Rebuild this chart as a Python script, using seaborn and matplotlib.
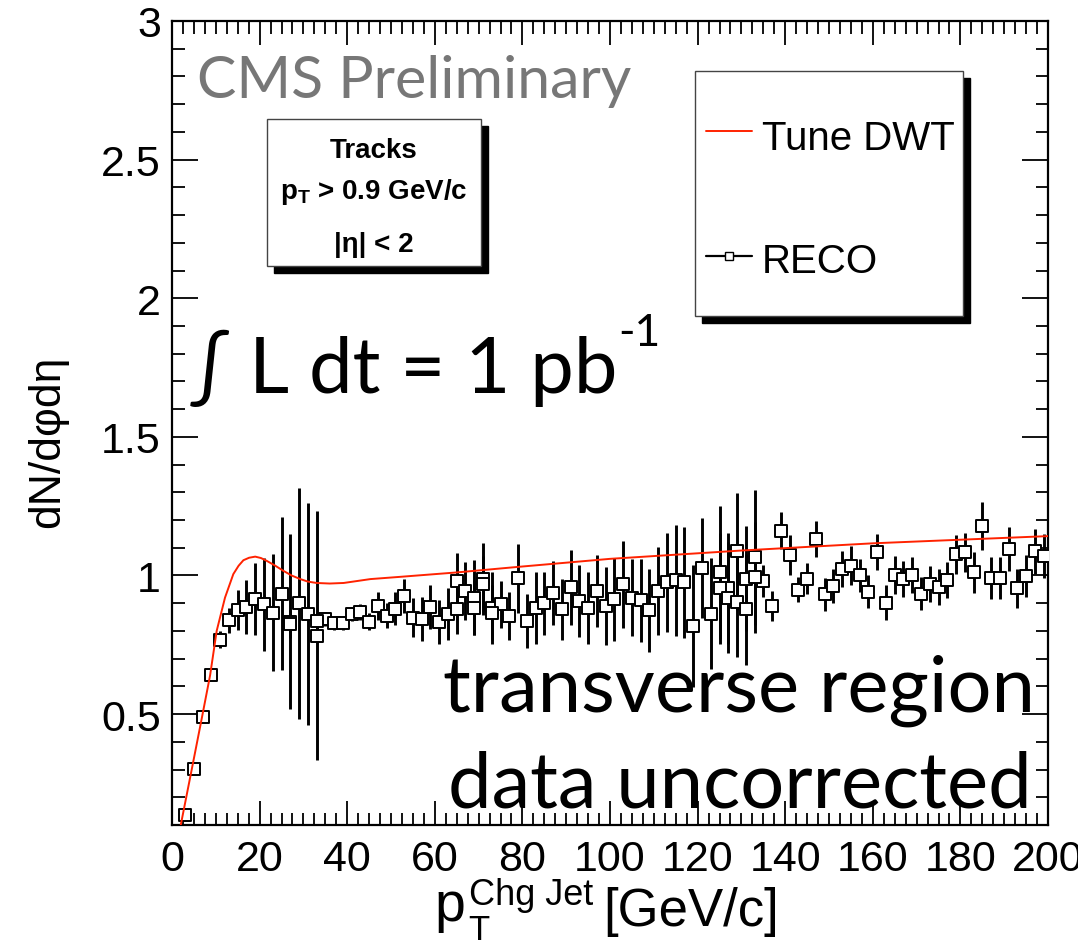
import numpy as np
import pandas as pd
import matplotlib
matplotlib.use('Agg')
import matplotlib.pyplot as plt
import seaborn as sns
from matplotlib.patches import Rectangle
from matplotlib.lines import Line2D
from matplotlib.ticker import MultipleLocator

# ---------------- data ----------------
reco_pt = [3, 5, 7, 9, 11, 13, 15, 17, 19, 21, 23, 25, 27, 29, 31, 33, 35, 37, 39, 41,
           43, 45, 47, 49, 51, 53, 55, 57, 59, 61, 63, 65, 67, 69, 71, 73, 75, 77, 79, 81,
           83, 85, 87, 89, 91, 93, 95, 97, 99, 101, 103, 105, 107, 109, 111, 113, 115, 117, 119, 121,
           123, 125, 127, 129, 131, 133, 135, 137, 139, 141, 143, 145, 147, 149, 151, 153, 155, 157, 159, 161,
           163, 165, 167, 169, 171, 173, 175, 177, 179, 181, 183, 185, 187, 189, 191, 193, 195, 197, 199]
reco_val = [0.135, 0.303, 0.488, 0.642, 0.768, 0.839, 0.876, 0.887, 0.916, 0.896,
            0.866, 0.935, 0.833, 0.900, 0.860, 0.783, 0.842, 0.830, 0.827, 0.862,
            0.868, 0.834, 0.890, 0.854, 0.880, 0.926, 0.848, 0.842, 0.886, 0.833,
            0.862, 0.981, 0.944, 0.920, 0.987, 0.884, 0.896, 0.854, 0.990, 0.836,
            0.884, 0.899, 0.938, 0.878, 0.957, 0.908, 0.884, 0.944, 0.890, 0.914,
            0.969, 0.920, 0.911, 0.874, 0.944, 0.975, 0.983, 0.975, 0.818, 1.027,
            0.862, 1.011, 0.954, 1.087, 0.989, 1.065, 0.981, 0.890, 1.162, 1.074,
            0.948, 0.989, 1.132, 0.932, 0.962, 1.025, 1.035, 1.001, 0.942, 1.083,
            0.902, 1.002, 0.989, 1.002, 0.935, 0.969, 0.957, 0.983, 1.077, 1.083,
            1.011, 1.178, 0.990, 0.990, 1.095, 0.954, 0.999, 1.087, 1.071]
reco_err = [0.010, 0.010, 0.012, 0.015, 0.030, 0.045, 0.072, 0.097, 0.130, 0.167,
            0.210, 0.275, 0.316, 0.417, 0.400, 0.450, 0.025, 0.025, 0.025, 0.025,
            0.030, 0.030, 0.050, 0.045, 0.060, 0.063, 0.070, 0.080, 0.080, 0.080,
            0.094, 0.100, 0.105, 0.135, 0.130, 0.130, 0.085, 0.085, 0.125, 0.097,
            0.130, 0.115, 0.115, 0.110, 0.135, 0.130, 0.130, 0.130, 0.140, 0.150,
            0.157, 0.140, 0.150, 0.150, 0.160, 0.180, 0.200, 0.200, 0.220, 0.180,
            0.200, 0.240, 0.200, 0.210, 0.190, 0.245, 0.057, 0.054, 0.066, 0.072,
            0.045, 0.055, 0.066, 0.060, 0.060, 0.065, 0.070, 0.060, 0.060, 0.065,
            0.063, 0.070, 0.065, 0.065, 0.060, 0.065, 0.065, 0.065, 0.070, 0.070,
            0.075, 0.087, 0.075, 0.075, 0.080, 0.070, 0.075, 0.080, 0.080]

# overlapping second entries seen at some bins
extra_pt = [27, 33, 65, 69, 71, 73, 125, 127, 129, 131, 133]
extra_val = [0.824, 0.836, 0.878, 0.884, 0.969, 0.866, 0.954, 0.920, 0.906, 0.878, 0.993]
extra_err = [0.050, 0.030, 0.090, 0.100, 0.100, 0.100, 0.200, 0.200, 0.200, 0.200, 0.200]

tune_pt = [2.0, 4.5, 6.8, 8.7, 10.2, 12.1, 14.0, 15.2, 16.3, 17.6, 19.0, 20.3, 21.6, 23.5, 25.4,
           27.3, 29.3, 31.0, 33.0, 36.0, 39.2, 45.3, 52.0, 65.0, 79.0, 100.0, 130.0, 160.0, 200.0]
tune_val = [0.10, 0.30, 0.485, 0.64, 0.80, 0.92, 1.005, 1.035, 1.055, 1.064, 1.068, 1.063, 1.053, 1.036, 1.017,
            1.000, 0.987, 0.978, 0.973, 0.971, 0.973, 0.987, 0.995, 1.011, 1.031, 1.060, 1.090, 1.116, 1.142]

x_ticks = [0, 20, 40, 60, 80, 100, 120, 140, 160, 180, 200]
y_ticks = [0.5, 1, 1.5, 2, 2.5, 3]
y_tick_labels = ['0.5', '1', '1.5', '2', '2.5', '3']

# ---------------- style ----------------
sns.set_theme(style='ticks')
plt.rcParams['font.family'] = ['Liberation Sans', 'DejaVu Sans']
plt.rcParams['mathtext.fontset'] = 'custom'
plt.rcParams['mathtext.rm'] = 'Liberation Sans'
plt.rcParams['mathtext.it'] = 'Liberation Sans'
plt.rcParams['mathtext.bf'] = 'Liberation Sans:bold'
for k in ['text.color', 'axes.labelcolor', 'xtick.color', 'ytick.color', 'axes.edgecolor']:
    plt.rcParams[k] = 'black'

W, H = 1078, 953
fig = plt.figure(figsize=(W / 100, H / 100), dpi=100)
fig.patch.set_facecolor('white')

def P(px, py):
    return (px / W, 1 - py / H)

ax_left, ax_right, ax_top, ax_bot = 172, 1048, 22, 826
ax = fig.add_axes([ax_left / W, 1 - ax_bot / H, (ax_right - ax_left) / W, (ax_bot - ax_top) / H])
ax.set_facecolor('white')

df = pd.DataFrame({'pt': reco_pt + extra_pt,
                   'val': reco_val + extra_val,
                   'err': reco_err + extra_err})

ax.errorbar(df['pt'], df['val'], yerr=df['err'], fmt='none', ecolor='black',
            elinewidth=2.1, capsize=0, zorder=2)
sns.scatterplot(data=df, x='pt', y='val', marker='s', s=72, facecolor='white',
                edgecolor='black', linewidth=1.4, zorder=3, ax=ax, legend=False)
tune_df = pd.DataFrame({'pt': tune_pt, 'val': tune_val})
sns.lineplot(data=tune_df, x='pt', y='val', sort=False, estimator=None,
             color='#ff2200', linewidth=1.4, zorder=4, ax=ax)

ax.set_xlim(0, 200)
ax.set_ylim(0.1, 3)
ax.set_xticks(x_ticks)
ax.set_yticks(y_ticks)
ax.set_yticklabels(y_tick_labels)
ax.xaxis.set_minor_locator(MultipleLocator(2.5))
ax.yaxis.set_minor_locator(MultipleLocator(0.1))
ax.tick_params(which='both', direction='in', top=True, right=True, color='black',
               labelcolor='black', width=1.3)
ax.tick_params(axis='x', which='major', length=17, labelsize=31, pad=10)
ax.tick_params(axis='y', which='major', length=19, labelsize=31, pad=8)
ax.tick_params(which='minor', length=9)
ax.set_xlabel('')
ax.set_ylabel('')
for sp in ax.spines.values():
    sp.set_linewidth(1.6)
    sp.set_color('black')

# axis titles (built from pieces to control sub/superscript placement)
fig.text(*P(434, 921), 'p', ha='left', va='baseline', fontsize=40)
fig.text(*P(468, 940), 'T', ha='left', va='baseline', fontsize=25)
fig.text(*P(469, 905), 'Chg Jet', ha='left', va='baseline', fontsize=26)
fig.text(*P(603, 926), '[GeV/c]', ha='left', va='baseline', fontsize=38)
fig.text(*P(48, 442), 'dN/dφdη', rotation=90, ha='center', va='center', fontsize=32)

# CMS Preliminary
fig.text(*P(197, 98), 'CMS Preliminary', ha='left', va='baseline', fontsize=42.5,
         color='#777777', family=['Lato', 'DejaVu Sans'])

# integrated luminosity
lum = fig.text(*P(190, 393), '∫ L dt = 1 pb', ha='left', va='baseline', fontsize=56,
               family=['Lato', 'DejaVu Sans'])
fig.canvas.draw()
bb = lum.get_window_extent(renderer=fig.canvas.get_renderer())
fig.text(bb.x1 / W + 1 / W, P(0, 346)[1], '-1', ha='left', va='baseline', fontsize=32,
         family=['Lato', 'DejaVu Sans'])

fig.text(*P(1035, 712), 'transverse region', ha='right', va='baseline', fontsize=56,
         family=['Lato', 'DejaVu Sans'])
fig.text(*P(1032, 808), 'data uncorrected', ha='right', va='baseline', fontsize=56,
         family=['Lato', 'DejaVu Sans'])

# Tracks box
def box(x0, y0, x1, y1, off):
    sh = Rectangle(P(x0 + off, y1 + off), (x1 - x0) / W, (y1 - y0) / H,
                   transform=fig.transFigure, facecolor='black', edgecolor='black', zorder=5)
    fr = Rectangle(P(x0, y1), (x1 - x0) / W, (y1 - y0) / H,
                   transform=fig.transFigure, facecolor='white', edgecolor='#444444',
                   linewidth=1.0, zorder=6)
    fig.add_artist(sh)
    fig.add_artist(fr)

box(267, 120, 481, 267, 7)
fig.text(*P(374, 158), 'Tracks', ha='center', va='baseline', fontsize=20, weight='bold', zorder=7)
fig.text(*P(374, 199), r'$\mathbf{p_T}$ > 0.9 GeV/c', ha='center', va='baseline', fontsize=20,
         weight='bold', zorder=7)
fig.text(*P(374, 252), '|η| < 2', ha='center', va='baseline', fontsize=20, weight='bold', zorder=7)

# legend box
box(695, 72, 963, 317, 7)
fig.add_artist(Line2D([706 / W, 752 / W], [P(0, 132)[1]] * 2, transform=fig.transFigure,
                      color='#ff2200', linewidth=1.4, zorder=7))
fig.add_artist(Line2D([706 / W, 752 / W], [P(0, 257)[1]] * 2, transform=fig.transFigure,
                      color='black', linewidth=1.6, zorder=7))
fig.add_artist(Line2D([729 / W], [P(0, 257)[1]], transform=fig.transFigure, marker='s',
                      markersize=6, markerfacecolor='white', markeredgecolor='black',
                      markeredgewidth=1.0, linestyle='none', zorder=8))
fig.text(*P(762, 150), 'Tune DWT', ha='left', va='baseline', fontsize=29, zorder=7)
fig.text(*P(762, 273), 'RECO', ha='left', va='baseline', fontsize=29, zorder=7)

fig.savefig('out.png', dpi=100, facecolor='white')
